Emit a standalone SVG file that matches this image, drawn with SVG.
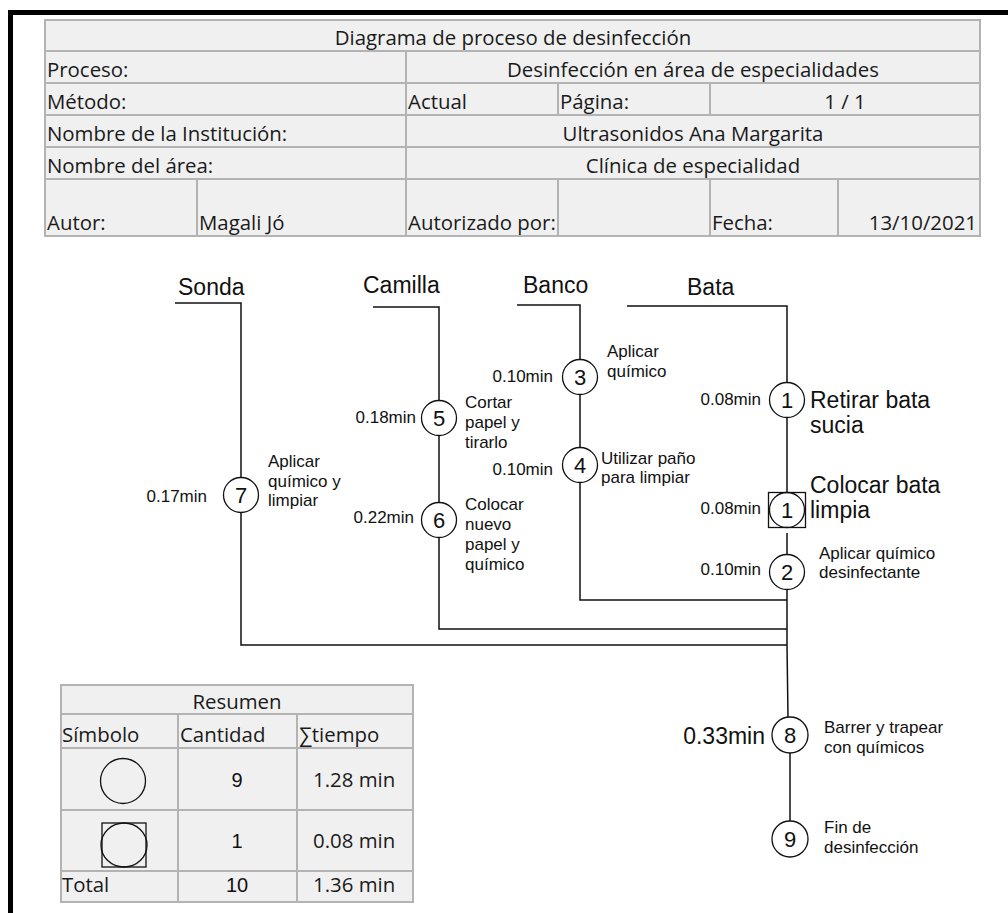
<svg xmlns="http://www.w3.org/2000/svg" width="1008" height="913" viewBox="0 0 1008 913">
<style>
.cell{fill:#f0f0f0;stroke:#b3b3b3;stroke-width:2}
.t{font-family:"Open Sans","Liberation Sans",sans-serif;font-size:20.4px;fill:#1a1a1a}
.c{text-anchor:middle}
.e{text-anchor:end}
.ln{fill:none;stroke:#111;stroke-width:1.5}
.node{fill:#fff;stroke:#111;stroke-width:1.3}
.sym{fill:none;stroke:#111;stroke-width:1.3}
.num{font-family:"Liberation Sans",Arial,sans-serif;font-size:22px;text-anchor:middle;fill:#111}
.lbl{font-family:"Liberation Sans",Arial,sans-serif;font-size:17px;fill:#111}
.big{font-size:23px}
.frame{fill:none;stroke:#000;stroke-width:5}
</style>
<path class="frame" d="M10.5,913 V12.5 H1008"/>
<g id="header-table">
<rect class="cell" x="45" y="20" width="935" height="31"/>
<rect class="cell" x="45" y="51" width="361" height="32"/>
<rect class="cell" x="406" y="51" width="574" height="32"/>
<rect class="cell" x="45" y="83" width="361" height="32"/>
<rect class="cell" x="406" y="83" width="152" height="32"/>
<rect class="cell" x="558" y="83" width="152" height="32"/>
<rect class="cell" x="710" y="83" width="270" height="32"/>
<rect class="cell" x="45" y="115" width="361" height="32"/>
<rect class="cell" x="406" y="115" width="574" height="32"/>
<rect class="cell" x="45" y="147" width="361" height="32"/>
<rect class="cell" x="406" y="147" width="574" height="32"/>
<rect class="cell" x="45" y="179" width="152" height="57"/>
<rect class="cell" x="197" y="179" width="209" height="57"/>
<rect class="cell" x="406" y="179" width="152" height="57"/>
<rect class="cell" x="558" y="179" width="152" height="57"/>
<rect class="cell" x="710" y="179" width="128" height="57"/>
<rect class="cell" x="838" y="179" width="142" height="57"/>
<text class="t c" x="513" y="45">Diagrama de proceso de desinfección</text>
<text class="t" x="47" y="77">Proceso:</text>
<text class="t c" x="693" y="77">Desinfección en área de especialidades</text>
<text class="t" x="47" y="109">Método:</text>
<text class="t" x="408" y="109">Actual</text>
<text class="t" x="560" y="109">Página:</text>
<text class="t c" x="845" y="109">1 / 1</text>
<text class="t" x="47" y="141">Nombre de la Institución:</text>
<text class="t c" x="693" y="141">Ultrasonidos Ana Margarita</text>
<text class="t" x="47" y="173">Nombre del área:</text>
<text class="t c" x="693" y="173">Clínica de especialidad</text>
<text class="t" x="47" y="230">Autor:</text>
<text class="t" x="199" y="230">Magali Jó</text>
<text class="t" x="408" y="230">Autorizado por:</text>
<text class="t" x="712" y="230">Fecha:</text>
<text class="t e" x="977" y="230">13/10/2021</text>
</g>
<g id="connectors">
<path class="ln" d="M175,303 H241 V645 H787"/>
<path class="ln" d="M373,307 H439 V629 H787"/>
<path class="ln" d="M517,305 H580 V600 H787"/>
<path class="ln" d="M627,306 H787 V493"/>
<path class="ln" d="M787,533 V645 L788,717"/>
<path class="ln" d="M790,753 V821"/>
</g>
<g id="lane-labels">
<text class="lbl big" x="178" y="295">Sonda</text>
<text class="lbl big" x="363" y="293">Camilla</text>
<text class="lbl big" x="523" y="293">Banco</text>
<text class="lbl big" x="687" y="295">Bata</text>
</g>
<g id="node-7">
<circle class="node" cx="241" cy="495" r="17.5"/>
<text class="num" x="241" y="503">7</text>
<text class="lbl e" x="207" y="502">0.17min</text>
<text class="lbl" x="268" y="467">Aplicar</text>
<text class="lbl" x="268" y="487">químico y</text>
<text class="lbl" x="268" y="506">limpiar</text>
</g>
<g id="node-5">
<circle class="node" cx="439" cy="418" r="17.5"/>
<text class="num" x="439" y="426">5</text>
<text class="lbl e" x="416" y="423">0.18min</text>
<text class="lbl" x="465" y="408">Cortar</text>
<text class="lbl" x="465" y="428">papel y</text>
<text class="lbl" x="465" y="448">tirarlo</text>
</g>
<g id="node-6">
<circle class="node" cx="439" cy="520" r="17.5"/>
<text class="num" x="439" y="528">6</text>
<text class="lbl e" x="414" y="523">0.22min</text>
<text class="lbl" x="465" y="510">Colocar</text>
<text class="lbl" x="465" y="530">nuevo</text>
<text class="lbl" x="465" y="550">papel y</text>
<text class="lbl" x="465" y="570">químico</text>
</g>
<g id="node-3">
<circle class="node" cx="580" cy="377" r="17.5"/>
<text class="num" x="580" y="385">3</text>
<text class="lbl e" x="553" y="382">0.10min</text>
<text class="lbl" x="607" y="357">Aplicar</text>
<text class="lbl" x="607" y="377">químico</text>
</g>
<g id="node-4">
<circle class="node" cx="580" cy="465" r="17.5"/>
<text class="num" x="580" y="473">4</text>
<text class="lbl e" x="553" y="475">0.10min</text>
<text class="lbl" x="601" y="464">Utilizar paño</text>
<text class="lbl" x="601" y="483">para limpiar</text>
</g>
<g id="node-1">
<circle class="node" cx="787" cy="400" r="17.5"/>
<text class="num" x="787" y="408">1</text>
<text class="lbl e" x="761" y="405">0.08min</text>
<text class="lbl big" x="810" y="408">Retirar bata</text>
<text class="lbl big" x="810" y="433">sucia</text>
</g>
<g id="node-1-combined">
<rect class="node" x="768.5" y="492.5" width="37" height="35"/>
<circle class="sym" cx="787" cy="510" r="17.5"/>
<text class="num" x="787" y="518">1</text>
<text class="lbl e" x="761" y="514">0.08min</text>
<text class="lbl big" x="810" y="493">Colocar bata</text>
<text class="lbl big" x="810" y="518">limpia</text>
</g>
<g id="node-2">
<circle class="node" cx="787" cy="572" r="17.5"/>
<text class="num" x="787" y="580">2</text>
<text class="lbl e" x="761" y="575">0.10min</text>
<text class="lbl" x="819" y="559">Aplicar químico</text>
<text class="lbl" x="819" y="578">desinfectante</text>
</g>
<g id="node-8">
<circle class="node" cx="790" cy="735" r="18"/>
<text class="num" x="790" y="743">8</text>
<text class="lbl big e" x="765" y="744">0.33min</text>
<text class="lbl" x="824" y="733">Barrer y trapear</text>
<text class="lbl" x="824" y="753">con químicos</text>
</g>
<g id="node-9">
<circle class="node" cx="790" cy="839" r="18"/>
<text class="num" x="790" y="847">9</text>
<text class="lbl" x="824" y="833">Fin de</text>
<text class="lbl" x="824" y="853">desinfección</text>
</g>
<g id="summary-table">
<rect class="cell" x="61" y="685" width="352" height="29"/>
<rect class="cell" x="61" y="714" width="117" height="34"/>
<rect class="cell" x="178" y="714" width="119" height="34"/>
<rect class="cell" x="297" y="714" width="116" height="34"/>
<rect class="cell" x="61" y="748" width="117" height="62"/>
<rect class="cell" x="178" y="748" width="119" height="62"/>
<rect class="cell" x="297" y="748" width="116" height="62"/>
<rect class="cell" x="61" y="810" width="117" height="61"/>
<rect class="cell" x="178" y="810" width="119" height="61"/>
<rect class="cell" x="297" y="810" width="116" height="61"/>
<rect class="cell" x="61" y="871" width="117" height="31"/>
<rect class="cell" x="178" y="871" width="119" height="31"/>
<rect class="cell" x="297" y="871" width="116" height="31"/>
<text class="t c" x="237" y="709">Resumen</text>
<text class="t" x="62" y="742">Símbolo</text>
<text class="t" x="180" y="742">Cantidad</text>
<text class="t" x="299" y="742">∑tiempo</text>
<circle class="sym" cx="123" cy="781" r="22.5"/>
<rect class="sym" x="102" y="823" width="44" height="44"/>
<ellipse class="sym" cx="124" cy="845" rx="23" ry="22"/>
<text class="num" x="237" y="787" style="font-size:20px">9</text>
<text class="num" x="237" y="848" style="font-size:20px">1</text>
<text class="num" x="237" y="892" style="font-size:20px">10</text>
<text class="t" x="313" y="787">1.28 min</text>
<text class="t" x="313" y="848">0.08 min</text>
<text class="t" x="313" y="892">1.36 min</text>
<text class="t" x="62" y="892">Total</text>
</g>
</svg>
